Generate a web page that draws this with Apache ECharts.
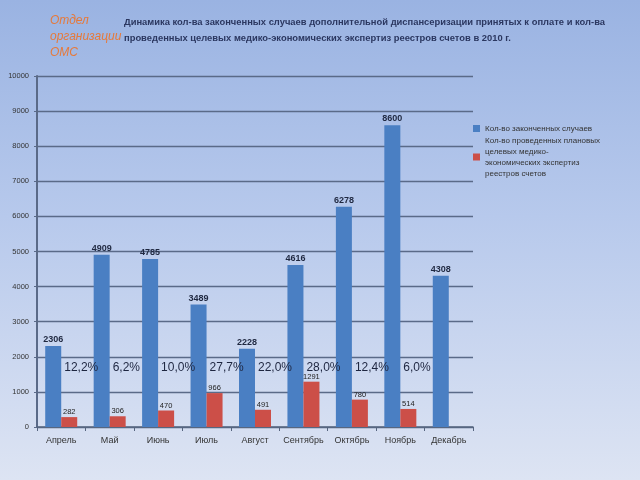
<!DOCTYPE html>
<html><head><meta charset="utf-8">
<script src="https://cdn.jsdelivr.net/npm/echarts@6/dist/echarts.min.js"></script>
<style>
html,body{margin:0;padding:0;}
body{width:640px;height:480px;background:linear-gradient(180deg,#9ab3e2 0%,#b7c9ec 45%,#dde4f3 100%);}
#c{width:640px;height:480px;}
</style></head>
<body><div id="c"></div>
<script>
var categories = ['Апрель','Май','Июнь','Июль','Август','Сентябрь','Октябрь','Ноябрь','Декабрь'];
var finishedCases = [2306, 4909, 4785, 3489, 2228, 4616, 6278, 8600, 4308];
var expertises = [282, 306, 470, 966, 491, 1291, 780, 514, null];
var percentLabels = ['12,2%','6,2%','10,0%','27,7%','22,0%','28,0%','12,4%','6,0%'];
var yTicks = {min: 0, max: 10000, interval: 1000};
var pctLevel = 1680;
var seriesNames = ['Кол-во законченных случаев', 'Кол-во проведенных плановых целевых медико-экономических экспертиз реестров счетов'];

var chart = echarts.init(document.getElementById('c'), null, {renderer: 'canvas'});
chart.setOption({
  backgroundColor: 'transparent',
  animation: false,
  color: ['#4a7fc3', '#cc4f48', '#1e2640'],
  textStyle: {fontFamily: 'Liberation Sans, Arial, sans-serif'},
  title: [
    {text: 'Отдел\nорганизации\nОМС', left: 50, top: 13, padding: 0,
     textStyle: {color: '#e6793a', fontStyle: 'italic', fontWeight: 'normal', fontSize: 12, lineHeight: 16, fontFamily: 'Liberation Sans, Arial, sans-serif'}},
    {text: 'Динамика кол-ва законченных случаев дополнительной диспансеризации принятых к оплате и кол-ва\nпроведенных целевых медико-экономических экспертиз реестров счетов в 2010 г.',
     left: 124, top: 14, padding: 0,
     textStyle: {color: '#2b3760', fontWeight: 'bold', fontSize: 9.4, lineHeight: 16, fontFamily: 'Liberation Sans, Arial, sans-serif'}}
  ],
  legend: {
    orient: 'vertical', left: 468, top: 118, itemWidth: 7, itemHeight: 7, itemGap: 1,
    icon: 'rect',
    data: seriesNames,
    formatter: function (n) {
      if (n === seriesNames[1]) return 'Кол-во проведенных плановых\nцелевых медико-\nэкономических экспертиз\nреестров счетов';
      return n;
    },
    textStyle: {fontSize: 8, color: '#333', lineHeight: 11}
  },
  grid: {left: 37, right: 167, top: 76, bottom: 53},
  xAxis: {
    type: 'category', data: categories,
    axisLine: {lineStyle: {color: '#56657f', width: 1.5}},
    axisTick: {show: true, length: 4, lineStyle: {color: '#56657f'}},
    axisLabel: {fontSize: 9, color: '#333', margin: 9, interval: 0}
  },
  yAxis: {
    type: 'value', min: yTicks.min, max: yTicks.max, interval: yTicks.interval,
    axisLine: {show: true, lineStyle: {color: '#5a6a88', width: 2}},
    axisTick: {show: true, length: 3, lineStyle: {color: '#5a6a88'}},
    axisLabel: {fontSize: 7.5, color: '#333', margin: 8, formatter: function (v) { return String(v); }},
    splitLine: {lineStyle: {color: '#5a6a88', width: 1.3}}
  },
  series: [
    {name: seriesNames[0], type: 'bar', data: finishedCases, barWidth: 16, barGap: '0%',
     itemStyle: {color: '#4a7fc3'},
     label: {show: true, position: 'top', distance: 2, fontSize: 9, fontWeight: 'bold', color: '#1f2840'}},
    {name: seriesNames[1], type: 'bar', data: expertises, barWidth: 16,
     itemStyle: {color: '#cc4f48'},
     label: {show: true, position: 'top', distance: 1, fontSize: 7.5, color: '#222'}},
    {name: 'pct', type: 'custom', silent: true, z: 10,
     itemStyle: {color: '#1e2640'},
     data: percentLabels.map(function (p, i) { return [i, pctLevel]; }),
     renderItem: function (params, api) {
       var pt = api.coord([api.value(0), api.value(1)]);
       return {type: 'text', x: pt[0] + 3, y: pt[1],
         style: {text: percentLabels[params.dataIndex], fill: '#1e2640', stroke: 'transparent', lineWidth: 0,
           fontSize: 12, fontFamily: 'Liberation Sans, Arial, sans-serif', verticalAlign: 'middle', align: 'left'}};
     }}
  ]
});
</script></body></html>
